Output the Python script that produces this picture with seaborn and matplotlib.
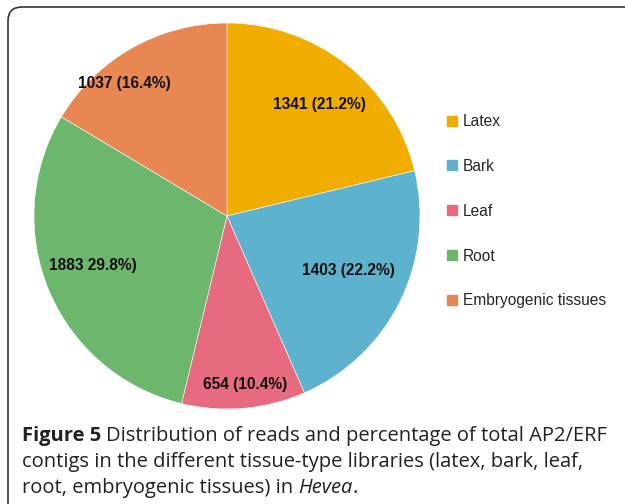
import numpy as np
import matplotlib
matplotlib.use("Agg")
import matplotlib.pyplot as plt
import seaborn as sns
from matplotlib.patches import FancyBboxPatch
from matplotlib.lines import Line2D
from matplotlib.transforms import IdentityTransform

# data
tissues = ["Latex", "Bark", "Leaf", "Root", "Embryogenic tissues"]
reads = [1341, 1403, 654, 1883, 1037]
pct_labels = ["1341 (21.2%)", "1403 (22.2%)", "654 (10.4%)", "1883 29.8%)", "1037 (16.4%)"]
colors = ["#F0AD00", "#5DB3CE", "#E66B7E", "#6CB66D", "#E88752"]
label_dist = [0.75, 0.69, 0.88, 0.74, 0.87]  # how far out each label sits
label_turn = [-1.5, 2.4, 1.0, -2.6, 8.3]     # small angle nudges (deg)

sns.set_theme(style="white")
plt.rcParams["font.family"] = ["Liberation Sans", "DejaVu Sans"]

W, H = 625, 504
fig = plt.figure(figsize=(W / 100, H / 100), dpi=100)

# pie axes: centre (227, 216) px, radius 193 px
cx, cy, r = 227, 216, 193
ax = fig.add_axes([(cx - r) / W, (H - cy - r) / H, 2 * r / W, 2 * r / H])
wedges, _ = ax.pie(reads, colors=colors, startangle=90, counterclock=False,
                   wedgeprops=dict(edgecolor="white", linewidth=0.4))
ax.set_xlim(-1, 1)
ax.set_ylim(-1, 1)
ax.set_aspect("equal")
ax.axis("off")

#labels at the middle angle of each wedge
for w, lab, d, turn in zip(wedges, pct_labels, label_dist, label_turn):
    ang = np.deg2rad((w.theta1 + w.theta2) / 2 + turn)
    ax.text(d * np.cos(ang), d * np.sin(ang), lab, ha="center", va="center",
            fontsize=11.2, fontweight="bold", color="#111111")

# legend
handles = [Line2D([0], [0], marker="s", linestyle="", markersize=7,
                  markerfacecolor=c, markeredgecolor=c) for c in colors]
fig.legend(handles, tissues, loc="upper left", bbox_to_anchor=(447 / W, 1 - 114 / H),
           frameon=False, fontsize=11.2, labelspacing=1.92, handlelength=0.7,
           handletextpad=0.3, borderaxespad=0, borderpad=0)

# rounded frame, cut off at right and bottom
frame = FancyBboxPatch((8, -30), 700, H - 7 + 30, boxstyle="round,pad=0,rounding_size=14",
                       transform=IdentityTransform(), facecolor="none",
                       edgecolor="#333333", linewidth=1.2)
fig.add_artist(frame)

# caption with bold and italic bits
cap_font = ["Open Sans", "DejaVu Sans"]
cap_size = 14.5
x0 = 22 / W
y1 = 1 - 441 / H
t = fig.text(x0, y1, "Figure 5", fontsize=cap_size, fontweight="bold",
             family=cap_font, color="#222222", va="baseline")
fig.canvas.draw()
bb = t.get_window_extent()
space = 5
fig.text((bb.x1 + space) / W, y1, "Distribution of reads and percentage of total AP2/ERF",
         fontsize=cap_size, family=cap_font, color="#222222", va="baseline")
fig.text(x0, 1 - 467 / H, "contigs in the different tissue-type libraries (latex, bark, leaf,",
         fontsize=cap_size, family=cap_font, color="#222222", va="baseline")
t3 = fig.text(x0, 1 - 493 / H, "root, embryogenic tissues) in ",
              fontsize=cap_size, family=cap_font, color="#222222", va="baseline")
fig.canvas.draw()
bb3 = t3.get_window_extent()
t4 = fig.text(bb3.x1 / W, 1 - 493 / H, "Hevea", fontsize=cap_size, style="italic",
              family=cap_font, color="#222222", va="baseline")
fig.canvas.draw()
bb4 = t4.get_window_extent()
fig.text(bb4.x1 / W, 1 - 493 / H, ".", fontsize=cap_size, family=cap_font,
         color="#222222", va="baseline")

fig.savefig("out.png", dpi=100)
